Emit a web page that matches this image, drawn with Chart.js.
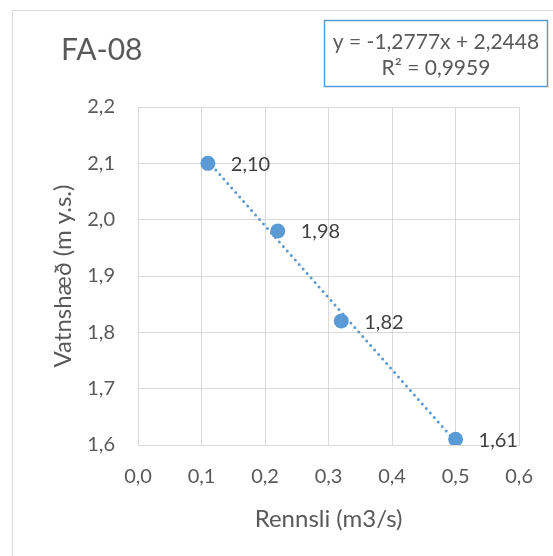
<!DOCTYPE html>
<html>
<head>
<meta charset="utf-8">
<script src="https://cdn.jsdelivr.net/npm/chart.js@4"></script>
<style>
  html, body { margin: 0; padding: 0; background: #fff; }
  #wrap { width: 553px; height: 556px; position: relative; }
</style>
</head>
<body>
<div id="wrap"><canvas id="c" width="553" height="556"></canvas></div>
<script>
// values
const flowX = [0.11, 0.22, 0.32, 0.50];
const levelY = [2.10, 1.98, 1.82, 1.61];
const pointLabels = ["2,10", "1,98", "1,82", "1,61"];
// trendline endpoints (linear fit shown in the box)
const trendX = [0.11, 0.50];
const trendY = [2.104, 1.606];
const eqLines = ["y = -1,2777x + 2,2448", "R² = 0,9959"];

const blue = "#5B9BD5";
const grey = "#595959";
const font = "Lato, 'Open Sans', sans-serif";

const comma = v => v.toFixed(1).replace(".", ",");

// point labels, title, equation box and outer frame
const extras = {
  id: "extras",
  beforeDraw(chart) {
    const ctx = chart.ctx;
    ctx.save();
    ctx.strokeStyle = "#D9D9D9";
    ctx.lineWidth = 1;
    ctx.strokeRect(12.5, 10.5, 600, 600);
    ctx.restore();
  },
  afterDraw(chart) {
    const ctx = chart.ctx;
    const xs = chart.scales.x, ys = chart.scales.y;
    ctx.save();
    ctx.fillStyle = "#404040";
    ctx.font = "20px " + font;
    ctx.textBaseline = "middle";
    ctx.textAlign = "left";
    flowX.forEach((x, i) => {
      ctx.fillText(pointLabels[i], xs.getPixelForValue(x) + 23, ys.getPixelForValue(levelY[i]) + 1);
    });

    ctx.fillStyle = grey;
    ctx.font = "30px " + font;
    ctx.fillText("FA-08", 61, 50);

    ctx.strokeStyle = blue;
    ctx.lineWidth = 1.5;
    ctx.strokeRect(324.5, 20.5, 223, 66);
    ctx.font = "21px " + font;
    ctx.textAlign = "center";
    ctx.fillText(eqLines[0], 436, 42);
    ctx.fillText(eqLines[1], 436, 68);
    ctx.restore();
  }
};

new Chart(document.getElementById("c"), {
  type: "scatter",
  data: {
    datasets: [
      {
        data: trendX.map((x, i) => ({ x: x, y: trendY[i] })),
        showLine: true,
        borderColor: blue,
        borderWidth: 3,
        borderDash: [0, 6],
        borderCapStyle: "round",
        pointRadius: 0,
        order: 0
      },
      {
        data: flowX.map((x, i) => ({ x: x, y: levelY[i] })),
        backgroundColor: blue,
        borderWidth: 0,
        pointRadius: 7.5,
        order: 1
      }
    ]
  },
  options: {
    responsive: false,
    animation: false,
    layout: { padding: { left: 40, top: 107, right: 31, bottom: 20 } },
    plugins: { legend: { display: false }, tooltip: { enabled: false } },
    scales: {
      x: {
        min: 0, max: 0.6,
        afterFit: s => { s.height = 91; },
        grid: { color: "#D9D9D9", drawTicks: false },
        border: { color: "#D9D9D9" },
        ticks: {
          stepSize: 0.1, padding: 20, color: grey,
          font: { family: font, size: 20 },
          callback: v => comma(v)
        },
        title: {
          display: true, text: "Rennsli (m3/s)", color: grey,
          font: { family: font, size: 24 }, padding: { top: 0, bottom: 2 }
        }
      },
      y: {
        min: 1.6, max: 2.2,
        afterFit: s => { s.width = 98; },
        grid: { color: "#D9D9D9", drawTicks: false },
        border: { color: "#D9D9D9" },
        ticks: {
          stepSize: 0.1, padding: 23, color: grey,
          font: { family: font, size: 20 },
          callback: v => comma(v)
        },
        title: {
          display: true, text: "Vatnshæð (m y.s.)", color: grey,
          font: { family: font, size: 24 }, padding: { top: 9, bottom: 0 }
        }
      }
    }
  },
  plugins: [extras]
});
</script>
</body>
</html>
